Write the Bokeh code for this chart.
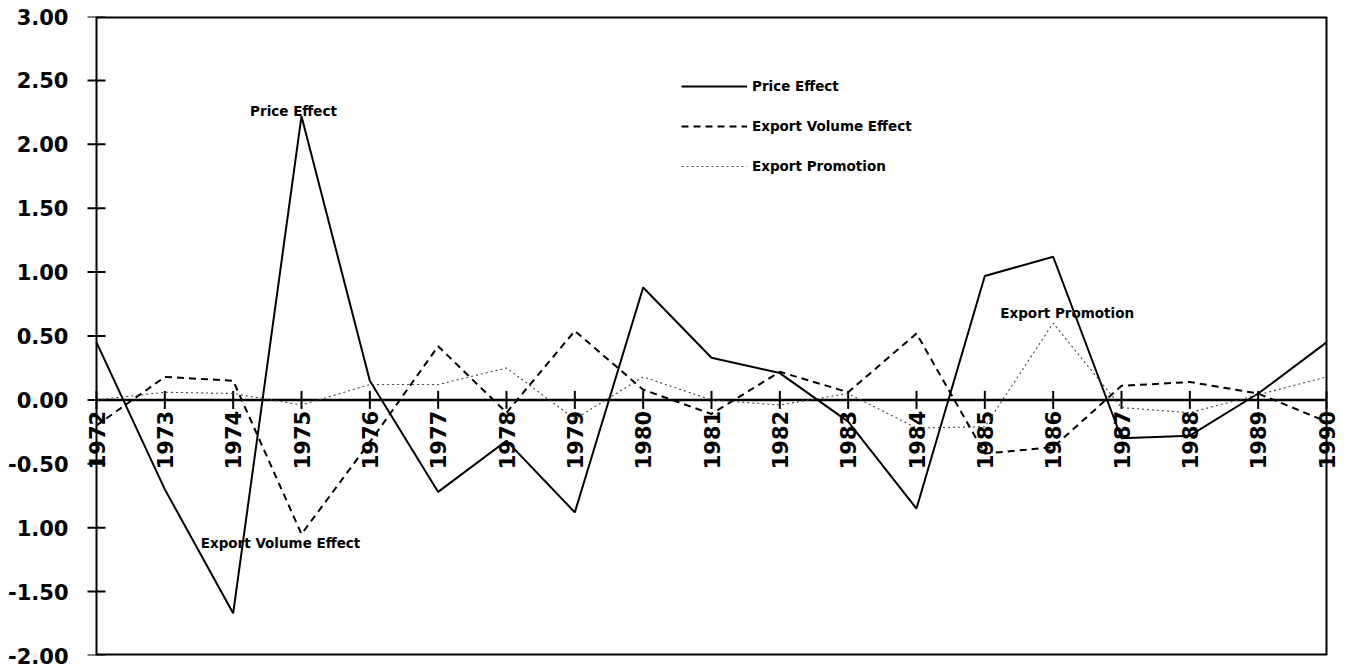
import math
from bokeh.plotting import figure
from bokeh.models import Span, Label, Legend, LegendItem, FixedTicker, Range1d
from bokeh.embed import file_html
from bokeh.resources import INLINE

years = list(range(1972, 1991))
year_labels = [str(y) for y in years]

price_effect = [0.45, -0.70, -1.67, 2.22, 0.15, -0.72, -0.32, -0.88, 0.88, 0.33,
                0.21, -0.17, -0.85, 0.97, 1.12, -0.30, -0.28, 0.05, 0.45]
export_volume = [-0.20, 0.18, 0.15, -1.05, -0.33, 0.42, -0.10, 0.54, 0.08, -0.11,
                 0.22, 0.06, 0.52, -0.42, -0.37, 0.11, 0.14, 0.05, -0.17]
export_promotion = [0.0, 0.06, 0.05, -0.04, 0.12, 0.12, 0.25, -0.15, 0.18, 0.0,
                    -0.04, 0.05, -0.22, -0.21, 0.60, -0.06, -0.10, 0.04, 0.18]

y_ticks = [3.0, 2.5, 2.0, 1.5, 1.0, 0.5, 0.0, -0.5, -1.0, -1.5, -2.0]
y_tick_labels = ["3.00", "2.50", "2.00", "1.50", "1.00", "0.50", "0.00",
                 "-0.50", "1.00", "-1.50", "-2.00"]

FONT = "DejaVu Sans"

# frame padded by a few pixels each side so that the end year labels are not clipped
PX_PER_YEAR = 1230 / 18
PAD_L, PAD_R = 15, 16
x0 = years[0] - PAD_L / PX_PER_YEAR
x1 = years[-1] + PAD_R / PX_PER_YEAR

p = figure(width=1346, height=667, output_backend="svg", toolbar_location=None,
           x_range=Range1d(x0, x1), y_range=Range1d(-2, 3),
           min_border_left=96 - PAD_L, min_border_right=20 - PAD_R,
           min_border_top=16, min_border_bottom=12)
p.xaxis.visible = False
p.xgrid.visible = False
p.ygrid.visible = False
p.outline_line_color = None
p.background_fill_color = "white"
p.border_fill_color = "white"

ax = p.yaxis[0]
ax.ticker = FixedTicker(ticks=y_ticks)
ax.major_label_overrides = {t: l for t, l in zip(y_ticks, y_tick_labels)}
ax.axis_line_color = None
ax.major_tick_line_color = None
ax.minor_tick_line_color = None
ax.major_tick_in = 0
ax.major_tick_out = 0
ax.major_label_standoff = 13
ax.major_label_text_font = FONT
ax.major_label_text_font_style = "bold"
ax.major_label_text_font_size = "21px"
ax.major_label_text_color = "black"

# box: left axis line, right edge, top and bottom edges
p.add_layout(Span(location=years[0], dimension="height", line_color="black", line_width=2))
p.add_layout(Span(location=years[-1], dimension="height", line_color="black", line_width=2))
p.segment(x0=[years[0], years[0]], y0=[y_ticks[0], y_ticks[-1]],
          x1=[years[-1], years[-1]], y1=[y_ticks[0], y_ticks[-1]],
          line_color="black", line_width=4)
# y ticks crossing the left axis
p.scatter(x=[years[0]] * len(y_ticks), y=y_ticks, marker="dash", size=18,
          line_color="black", line_width=2)

# zero line with year ticks and vertical year labels
zeros = [0.0] * len(years)
p.line(x=years, y=zeros, line_color="black", line_width=2.5)
p.scatter(x=years, y=zeros, marker="dash", angle=math.pi / 2, size=18,
          line_color="black", line_width=2)
for yr, lab in zip(years, year_labels):
    p.add_layout(Label(x=yr, y=0, text=lab, angle=math.pi / 2,
                       text_align="right", text_baseline="middle", y_offset=-11,
                       text_font=FONT, text_font_style="bold",
                       text_font_size="21px", text_color="black"))

r_price = p.line(years, price_effect, line_color="black", line_width=2)
r_vol = p.line(years, export_volume, line_color="black", line_width=2, line_dash="7 5")
r_prom = p.line(years, export_promotion, line_color="#444444", line_width=1.1, line_dash="2 3")

legend = Legend(items=[LegendItem(label="Price Effect", renderers=[r_price]),
                       LegendItem(label="Export Volume Effect", renderers=[r_vol]),
                       LegendItem(label="Export Promotion", renderers=[r_prom])],
                location=(585 + PAD_L, 479), glyph_width=66, glyph_height=20, label_height=20,
                spacing=20, padding=0, margin=0, label_standoff=5,
                border_line_color=None, background_fill_alpha=0,
                label_text_font=FONT, label_text_font_style="bold",
                label_text_font_size="13.5px", label_text_color="black")
p.add_layout(legend, "center")

lab_kw = dict(text_font=FONT, text_font_style="bold", text_font_size="13.5px",
              text_color="black", text_align="center")
p.add_layout(Label(x=years[3], y=price_effect[3], x_offset=-8, y_offset=-3,
                   text="Price Effect", text_baseline="bottom", **lab_kw))
p.add_layout(Label(x=years[3], y=export_volume[3], x_offset=-21, y_offset=-9,
                   text="Export Volume Effect", text_baseline="middle", **lab_kw))
p.add_layout(Label(x=years[14], y=export_promotion[14], x_offset=14, y_offset=10,
                   text="Export Promotion", text_baseline="middle", **lab_kw))

open("out.html", "w").write(file_html(p, INLINE))
